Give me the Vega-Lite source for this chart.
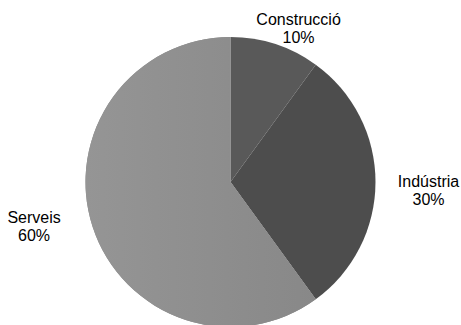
{
  "$schema": "https://vega.github.io/schema/vega-lite/v6.json",
  "width": 461,
  "height": 286,
  "autosize": "none",
  "padding": {"top": 39, "bottom": 0, "left": 0, "right": 0},
  "background": "white",
  "view": {"stroke": null},
  "data": {
    "values": [
      {"sector": "Construcció", "pct": 10, "label": "Construcció\n10%"},
      {"sector": "Indústria", "pct": 30, "label": "Indústria\n30%"},
      {"sector": "Serveis", "pct": 60, "label": "Serveis\n60%"}
    ]
  },
  "encoding": {
    "theta": {"field": "pct", "type": "quantitative", "stack": true},
    "order": {"field": "sector", "type": "nominal", "sort": "ascending"}
  },
  "layer": [
    {
      "mark": {"type": "arc", "radius": 145, "stroke": null},
      "encoding": {
        "color": {
          "field": "sector",
          "type": "nominal",
          "scale": {"domain": ["Construcció", "Indústria", "Serveis"], "range": ["#595959", "#4d4d4d", "#8c8c8c"]},
          "legend": null
        }
      }
    },
    {
      "mark": {
        "type": "arc",
        "radius": 145,
        "stroke": null,
        "color": {
          "gradient": "linear",
          "x1": 0, "y1": 0.5, "x2": 1, "y2": 0.5,
          "stops": [
            {"offset": 0, "color": "#959595"},
            {"offset": 1, "color": "#888888"}
          ]
        }
      },
      "encoding": {
        "opacity": {"condition": {"test": "datum.sector === 'Serveis'", "value": 1}, "value": 0}
      }
    },
    {
      "mark": {"type": "text", "radius": 175, "dx": 14, "dy": 4, "font": "Liberation Sans", "fontSize": 16, "lineBreak": "\n", "lineHeight": 18, "align": "center", "baseline": "middle", "color": "black"},
      "encoding": {
        "text": {"condition": {"test": "datum.sector === 'Construcció'", "field": "label"}, "value": ""}
      }
    },
    {
      "mark": {"type": "text", "radius": 175, "dx": 23, "dy": 0, "font": "Liberation Sans", "fontSize": 16, "lineBreak": "\n", "lineHeight": 18, "align": "center", "baseline": "middle", "color": "black"},
      "encoding": {
        "text": {"condition": {"test": "datum.sector === 'Indústria'", "field": "label"}, "value": ""}
      }
    },
    {
      "mark": {"type": "text", "radius": 175, "dx": -30, "dy": -18.5, "font": "Liberation Sans", "fontSize": 16, "lineBreak": "\n", "lineHeight": 18, "align": "center", "baseline": "middle", "color": "black"},
      "encoding": {
        "text": {"condition": {"test": "datum.sector === 'Serveis'", "field": "label"}, "value": ""}
      }
    }
  ]
}
